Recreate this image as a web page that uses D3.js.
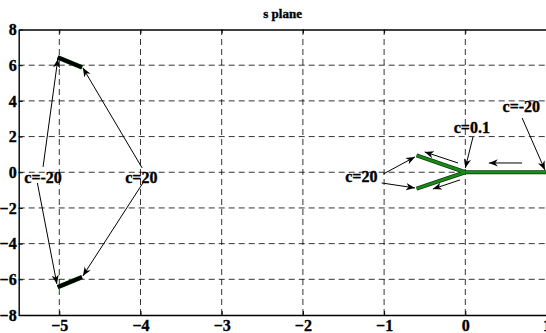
<!DOCTYPE html>
<html>
<head>
<meta charset="utf-8">
<script src="https://cdn.jsdelivr.net/npm/d3@7"></script>
<style>
  body { margin: 0; background: #fff; }
  text { font-family: "Liberation Serif", "DejaVu Serif", serif; font-weight: bold; stroke: #000; stroke-width: 0.35px; }
</style>
</head>
<body>
<div id="chart"></div>
<script>
// axis ticks
const xTicks = [-5, -4, -3, -2, -1, 0, 1];
const yTicks = [-8, -6, -4, -2, 0, 2, 4, 6, 8];

// root locus branches (x, y in s plane)
const leftBranches = [
  [[-5.02, 6.44], [-4.72, 5.88]],
  [[-5.02, -6.44], [-4.72, -5.88]]
];
const rightBranches = [
  [[-0.60, 0.94], [0, 0]],
  [[-0.60, -0.92], [0, 0]],
  [[0, 0], [1, 0]]
];

// annotation arrows [from, to]
const arrows = [
  [[-5.20, 0.30], [-5.018, 6.35]],
  [[-5.27, -0.60], [-5.03, -6.26]],
  [[-3.98, 0.24], [-4.71, 5.85]],
  [[-3.97, -0.60], [-4.71, -5.81]],
  [[-1.01, -0.10], [-0.62, 0.86]],
  [[-1.03, -0.60], [-0.62, -0.88]],
  [[-0.09, 0.52], [-0.50, 1.14]],
  [[-0.065, -0.43], [-0.40, -0.94]],
  [[0.095, 1.98], [0, 0.24]],
  [[0.70, 3.04], [0.98, 0.13]],
  [[0.70, 0.52], [0.29, 0.52]]
];

// annotation labels
const labels = [
  { text: "c=-20", x: -5.20, y: -0.58 },
  { text: "c=20", x: -3.99, y: -0.58 },
  { text: "c=20", x: -1.28, y: -0.52 },
  { text: "c=0.1", x: 0.08, y: 2.2 },
  { text: "c=-20", x: 0.69, y: 3.4 }
];

const width = 546, height = 333;
const margin = { left: 18.7, top: 29.5, right: -0.5, bottom: 18 };

const svg = d3.select("#chart").append("svg")
  .attr("width", width)
  .attr("height", height);

const x = d3.scaleLinear().domain([-5.5, 1]).range([margin.left, width - margin.right]);
const y = d3.scaleLinear().domain([-8, 8]).range([height - margin.bottom, margin.top]);

svg.append("defs").append("marker")
  .attr("id", "head")
  .attr("markerUnits", "userSpaceOnUse")
  .attr("viewBox", "0 0 10 10")
  .attr("refX", 10)
  .attr("refY", 5)
  .attr("markerWidth", 9)
  .attr("markerHeight", 9)
  .attr("orient", "auto")
  .append("path")
  .attr("d", "M0,1 L10,5 L0,9 L3,5 Z")
  .attr("fill", "#000");

// grid
const grid = svg.append("g")
  .attr("stroke", "#000")
  .attr("stroke-width", 0.8)
  .attr("stroke-dasharray", "6,4");

grid.selectAll(".gx")
  .data(xTicks.filter(d => d > -5.5 && d < 1))
  .enter()
  .append("line")
  .attr("x1", d => x(d))
  .attr("x2", d => x(d))
  .attr("y1", y(-8))
  .attr("y2", y(8));

grid.selectAll(".gy")
  .data(yTicks.filter(d => d > -8 && d < 8))
  .enter()
  .append("line")
  .attr("x1", x(-5.5))
  .attr("x2", x(1))
  .attr("y1", d => y(d))
  .attr("y2", d => y(d));

// axes
const fmt = d3.format("d");
const xAxis = svg.append("g")
  .attr("transform", `translate(0,${y(-8)})`)
  .call(d3.axisBottom(x).tickValues(xTicks).tickFormat(fmt).tickSizeInner(-4).tickSizeOuter(0).tickPadding(7));
const xTop = svg.append("g")
  .attr("transform", `translate(0,${y(8)})`)
  .call(d3.axisTop(x).tickValues(xTicks).tickSizeInner(-4).tickSizeOuter(0).tickFormat(""));
const yAxis = svg.append("g")
  .attr("transform", `translate(${x(-5.5)},0)`)
  .call(d3.axisLeft(y).tickValues(yTicks).tickFormat(fmt).tickSizeInner(-4).tickSizeOuter(0).tickPadding(2));

[xAxis, xTop, yAxis].forEach(a => {
  a.select(".domain").attr("stroke", "#000").attr("stroke-width", 1.4);
  a.selectAll(".tick line").attr("stroke", "#000");
  a.selectAll("text")
    .attr("fill", "#000")
    .attr("font-size", "16px")
    .attr("font-family", "Liberation Serif, serif")
    .attr("font-weight", "bold");
});
xAxis.selectAll("text").attr("dy", "0.55em");
yAxis.selectAll("text").attr("dy", "0.33em");

// branches
const line = d3.line().x(d => x(d[0])).y(d => y(d[1]));

svg.selectAll(".rb-under")
  .data(rightBranches)
  .enter()
  .append("path")
  .attr("d", line)
  .attr("fill", "none")
  .attr("stroke", "#0a3a0a")
  .attr("stroke-width", 4);
svg.selectAll(".rb")
  .data(rightBranches)
  .enter()
  .append("path")
  .attr("d", line)
  .attr("fill", "none")
  .attr("stroke", "#1a8a1a")
  .attr("stroke-width", 2.4);

svg.selectAll(".lb-under")
  .data(leftBranches)
  .enter()
  .append("path")
  .attr("d", line)
  .attr("fill", "none")
  .attr("stroke", "#1a9a1a")
  .attr("stroke-width", 4.5);
svg.selectAll(".lb")
  .data(leftBranches)
  .enter()
  .append("path")
  .attr("d", line)
  .attr("fill", "none")
  .attr("stroke", "#000")
  .attr("stroke-width", 4);

// arrows
svg.selectAll(".arrow")
  .data(arrows)
  .enter()
  .append("line")
  .attr("x1", d => x(d[0][0]))
  .attr("y1", d => y(d[0][1]))
  .attr("x2", d => x(d[1][0]))
  .attr("y2", d => y(d[1][1]))
  .attr("stroke", "#000")
  .attr("stroke-width", 1)
  .attr("marker-end", "url(#head)");

// labels
svg.selectAll(".lbl")
  .data(labels)
  .enter()
  .append("text")
  .attr("x", d => x(d.x))
  .attr("y", d => y(d.y))
  .attr("text-anchor", "middle")
  .attr("font-size", "16px")
  .attr("fill", "#000")
  .text(d => d.text);

// title
svg.append("text")
  .attr("x", (x(-5.5) + x(1)) / 2)
  .attr("y", 18)
  .attr("text-anchor", "middle")
  .attr("font-size", "13px")
  .text("s plane");
</script>
</body>
</html>
